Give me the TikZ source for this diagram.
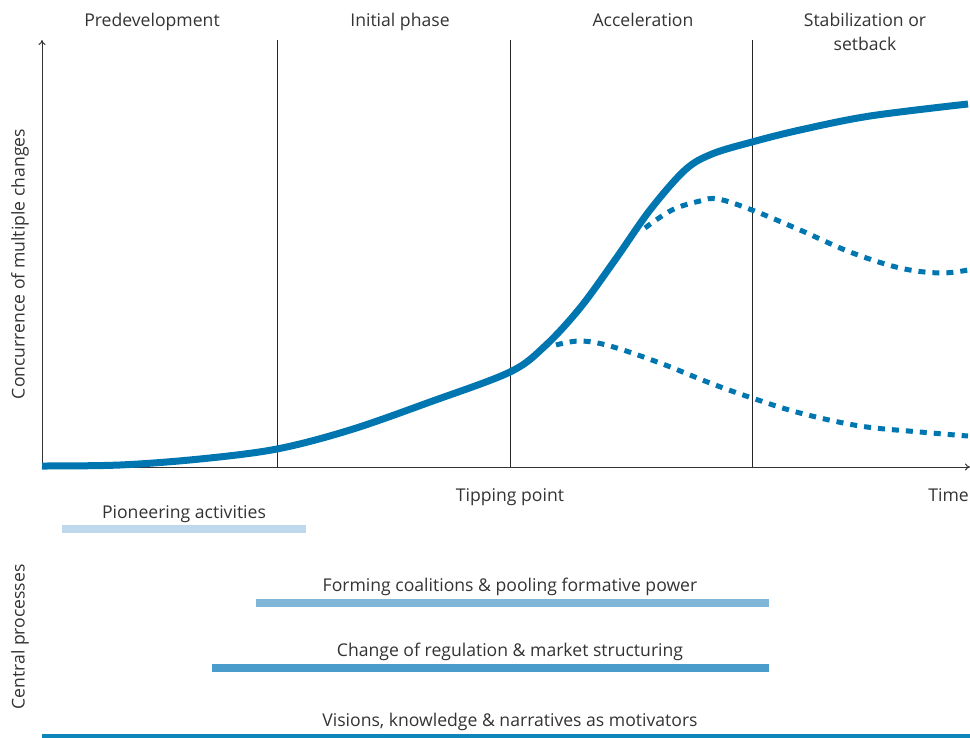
\documentclass[tikz,border=0pt]{standalone}
\usepackage{fontspec}
\setmainfont{Open Sans}
\usetikzlibrary{arrows.meta}
\definecolor{curveblue}{HTML}{0076B1}
\definecolor{barA}{HTML}{BFD8EB}
\definecolor{barB}{HTML}{80B6D7}
\definecolor{barC}{HTML}{4A9CCA}
\definecolor{barD}{HTML}{0E86BA}
\definecolor{txt}{HTML}{333333}
\begin{document}
\begin{tikzpicture}[x=1pt,y=-1pt,
  lbl/.style={font=\fontsize{17.6}{24}\selectfont, text=txt, inner sep=0pt},
  axisline/.style={line width=1pt, draw=txt},
  phase/.style={line width=0.9pt, draw=black!85},
  bar/.style={line width=8pt},
  maincurve/.style={line width=7pt, draw=curveblue, line cap=butt},
  dotcurve/.style={line width=5pt, draw=curveblue, dash pattern=on 7pt off 7pt}]
\useasboundingbox (0,0) rectangle (970,738);
% axes
\coordinate (o) at (42,467);
\coordinate (ytop) at (42,40);
\coordinate (xend) at (970,467);
\draw[axisline,-{To[length=5pt,width=7pt]}] (o) -- (ytop);
\draw[axisline,-{To[length=5pt,width=7pt]}] (o) -- (xend);
% phase lines
\foreach \x/\n in {277/p1,510/p2,752/p3}{
  \coordinate (\n t) at (\x,40);
  \coordinate (\n b) at (\x,467);
  \draw[phase] (\n t) -- (\n b);
}
% headers
\node[lbl, anchor=base] (h1) at (152,27) {Predevelopment};
\node[lbl, anchor=base] (h2) at (400,27) {Initial phase};
\node[lbl, anchor=base] (h3) at (643,27) {Acceleration};
\node[lbl, anchor=base] (h4) at (865,27) {Stabilization or};
\node[lbl, anchor=base] (h4b) at (865,51) {setback};
\node[lbl, rotate=90] (ylab) at (20,264) {Concurrence of multiple changes};
\node[lbl, anchor=base] (tp) at (510,501) {Tipping point};
\node[lbl, anchor=base east] (time) at (969,501) {Time};
% curves
\draw[maincurve] plot[smooth, tension=0.55] coordinates {(42,466) (120,465) (200,459) (277,449) (350,430) (430,402) (510,372) (545,346) (580,308) (615,260) (650,210) (685,170) (712,154) (752,142) (800,130) (870,116) (968,104)};
\draw[dotcurve] plot[smooth, tension=0.6] coordinates {(556,345) (580,341) (610,346) (660,363) (710,383) (752,398) (800,413) (860,426) (920,432) (968,436)};
\draw[dotcurve] plot[smooth, tension=0.6] coordinates {(645,228) (672,210) (700,201) (718,199) (752,210) (800,230) (850,252) (900,268) (940,273) (968,270)};
% central processes
\node[lbl, rotate=90] (cp) at (20,637) {Central processes};
\coordinate (a1) at (62,529); \coordinate (a2) at (306,529);
\coordinate (b1) at (256,603); \coordinate (b2) at (769,603);
\coordinate (c1) at (212,668); \coordinate (c2) at (769,668);
\coordinate (d1) at (42,736); \coordinate (d2) at (970,736);
\draw[bar, barA] (a1) -- (a2);
\draw[bar, barB] (b1) -- (b2);
\draw[bar, barC] (c1) -- (c2);
\draw[bar, barD, line width=5pt] (d1) -- (d2);
\node[lbl, anchor=base] (la) at (184,518) {Pioneering activities};
\node[lbl, anchor=base] (lb) at (510,591) {Forming coalitions \& pooling formative power};
\node[lbl, anchor=base] (lc) at (510,656) {Change of regulation \& market structuring};
\node[lbl, anchor=base] (ld) at (510,726) {Visions, knowledge \& narratives as motivators};
\end{tikzpicture}
\end{document}
